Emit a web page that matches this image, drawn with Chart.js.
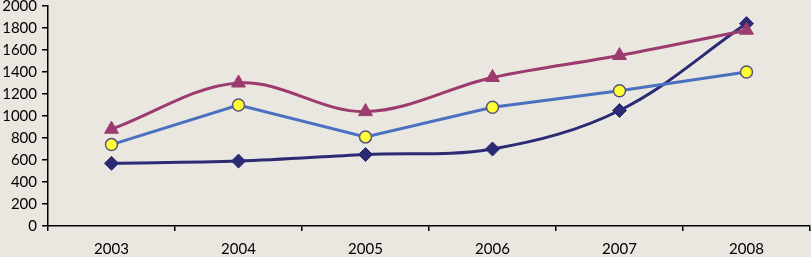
<!DOCTYPE html>
<html>
<head>
<meta charset="utf-8">
<script src="https://cdn.jsdelivr.net/npm/chart.js@4/dist/chart.umd.min.js"></script>
<style>
  html, body { margin: 0; padding: 0; background: #eae6e0; }
</style>
</head>
<body>
<canvas id="chart" width="811" height="257"></canvas>
<script>
// Data
const years = ["2003", "2004", "2005", "2006", "2007", "2008"];
const diamondValues = [570, 590, 650, 700, 1050, 1840];
const circleValues = [740, 1100, 810, 1080, 1230, 1400];
const triangleValues = [880, 1300, 1040, 1350, 1550, 1780];
const yTicks = [0, 200, 400, 600, 800, 1000, 1200, 1400, 1600, 1800, 2000];

// paint the beige background
const bgPlugin = {
  id: "bg",
  beforeDraw(chart) {
    const ctx = chart.ctx;
    ctx.save();
    ctx.fillStyle = "#eae6e0";
    ctx.fillRect(0, 0, chart.width, chart.height);
    ctx.restore();
  }
};

const tickFont = { family: "Lato", size: 15 };

new Chart(document.getElementById("chart").getContext("2d"), {
  type: "line",
  data: {
    labels: years,
    datasets: [
      {
        data: triangleValues,
        borderColor: "#9c3b6e",
        backgroundColor: "#9c3b6e",
        borderWidth: 3,
        tension: 0.35,
        pointStyle: "triangle",
        pointRadius: 8,
        pointBorderWidth: 1,
        pointBorderColor: "#9c3b6e"
      },
      {
        data: circleValues,
        borderColor: "#4a70c0",
        backgroundColor: "#ffff33",
        borderWidth: 3,
        tension: 0,
        pointStyle: "circle",
        pointRadius: 6,
        pointBorderWidth: 1.5,
        pointBorderColor: "#55557a"
      },
      {
        data: diamondValues,
        borderColor: "#2b2b73",
        backgroundColor: "#2b2b73",
        borderWidth: 3,
        tension: 0.35,
        pointStyle: "rectRot",
        pointRadius: 7,
        pointBorderWidth: 1,
        pointBorderColor: "#2b2b73"
      }
    ]
  },
  options: {
    responsive: false,
    animation: false,
    layout: { autoPadding: false, padding: { top: 6, right: 1, left: 0, bottom: 0 } },
    plugins: {
      legend: { display: false },
      tooltip: { enabled: false }
    },
    scales: {
      x: {
        offset: true,
        grid: { offset: true, drawOnChartArea: false, tickLength: 5, color: "#000", lineWidth: 1.5 },
        border: { color: "#000", width: 1.5 },
        ticks: { color: "#000", font: tickFont, padding: 9, maxRotation: 0 },
        afterFit(scale) {
          scale.height = 31;
          scale.paddingLeft = 0;
          scale.paddingRight = 0;
        }
      },
      y: {
        min: 0,
        max: 2000,
        afterBuildTicks(scale) {
          scale.ticks = yTicks.map(v => ({ value: v }));
        },
        grid: { drawOnChartArea: false, tickLength: 6, color: "#000", lineWidth: 1.5 },
        border: { color: "#000", width: 1.5 },
        ticks: { color: "#000", font: tickFont, padding: 5, callback: v => String(v) },
        afterFit(scale) {
          scale.width = 48;
          scale.paddingTop = 0;
          scale.paddingBottom = 0;
        }
      }
    }
  },
  plugins: [bgPlugin]
});
</script>
</body>
</html>
